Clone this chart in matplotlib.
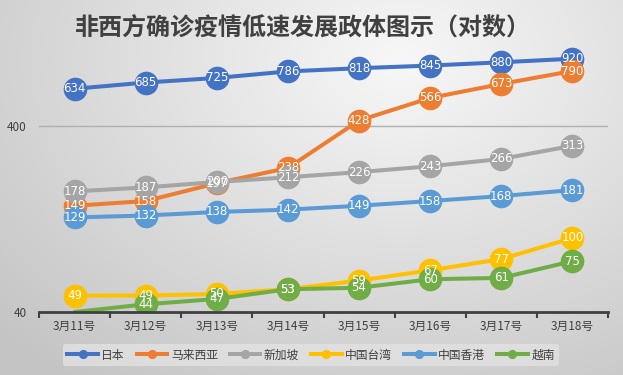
import numpy as np
import matplotlib
matplotlib.use('Agg')
import matplotlib.pyplot as plt

plt.rcParams['font.family'] = ['Noto Sans CJK SC', 'DejaVu Sans']

dates = ['3月11号', '3月12号', '3月13号', '3月14号', '3月15号', '3月16号', '3月17号', '3月18号']

japan = [634, 685, 725, 786, 818, 845, 880, 920]
malaysia = [149, 158, 197, 238, 428, 566, 673, 790]
singapore = [178, 187, 200, 212, 226, 243, 266, 313]
taiwan = [49, 49, 50, 53, 59, 67, 77, 100]
hongkong = [129, 132, 138, 142, 149, 158, 168, 181]
vietnam = [40, 44, 47, 53, 54, 60, 61, 75]

series = [
    ('日本', japan, '#4472C4'),
    ('马来西亚', malaysia, '#ED7D31'),
    ('新加坡', singapore, '#A5A5A5'),
    ('中国台湾', taiwan, '#FFC000'),
    ('中国香港', hongkong, '#5B9BD5'),
    ('越南', vietnam, '#70AD47'),
]

W, H = 623, 375
fig = plt.figure(figsize=(W / 100, H / 100), dpi=100)

# radial gray background
bg = fig.add_axes([0, 0, 1, 1], zorder=-10)
yy, xx = np.mgrid[0:H, 0:W]
r = np.sqrt(((xx - 400) / 520) ** 2 + ((yy - 60) / 380) ** 2)
shade = np.clip(0.97 - 0.19 * r, 0.77, 0.97)
bg.imshow(np.dstack([shade] * 3), extent=(0, W, H, 0), aspect='auto')
bg.set_xlim(0, W)
bg.set_ylim(H, 0)
bg.axis('off')

ax = fig.add_axes([39 / W, 1 - 312 / H, (608 - 39) / W, (312 - 45) / H])
ax.patch.set_alpha(0)

x = np.arange(len(dates))
for name, vals, color in series:
    vals = np.array(vals)
    ax.plot(x, vals, color=color, lw=2.9, solid_capstyle='round')
    # markers only where the value sits inside the axis (Excel hides the 40 one)
    show = vals > 40
    ax.plot(x[show], vals[show], color=color, lw=0, marker='o', ms=16)
    ax.plot([], [], color=color, lw=2.9, marker='o', ms=16, label=name)
    for xi, v in zip(x[show], vals[show]):
        ax.text(xi, v, str(v), color='white', fontsize=8.5, ha='center',
                va='center', family=['DejaVu Sans'])

ax.set_yscale('log')
ax.set_ylim(40, 1090)
ax.set_xlim(-0.5, 7.5)
ax.set_yticks([40, 400])
ax.set_yticklabels(['40', '400'])
ax.yaxis.set_minor_locator(matplotlib.ticker.NullLocator())
ax.axhline(400, color='#b0b0b0', lw=1, zorder=0)
ax.tick_params(axis='y', length=0, labelsize=8.5, labelcolor='#404040', pad=9)

ax.set_xticks(x)
ax.set_xticklabels(dates)
ax.set_xticks(np.arange(-0.5, 8, 1), minor=True)
ax.tick_params(axis='x', which='major', length=0, labelsize=8.5,
               labelcolor='#404040', pad=6)
ax.tick_params(axis='x', which='minor', length=4, width=1.5, color='#404040')

for s in ['top', 'right', 'left']:
    ax.spines[s].set_visible(False)
ax.spines['bottom'].set_color('#404040')
ax.spines['bottom'].set_linewidth(2)

fig.text(303 / W, 1 - 28 / H, '非西方确诊疫情低速发展政体图示（对数）', ha='center',
         va='center', fontsize=17.3, fontweight='bold', color='#404040')

leg = fig.legend(loc='center', bbox_to_anchor=(311 / W, 1 - 355 / H), ncol=6,
                 frameon=True, fontsize=8.5, markerscale=0.35, handlelength=2.6,
                 columnspacing=1.0, handletextpad=0.3, borderpad=0.35)
leg.get_frame().set_facecolor('#e2e2e2')
leg.get_frame().set_edgecolor('none')
leg.get_frame().set_alpha(0.8)
for t in leg.get_texts():
    t.set_color('#404040')

fig.savefig('out.png', dpi=100)
